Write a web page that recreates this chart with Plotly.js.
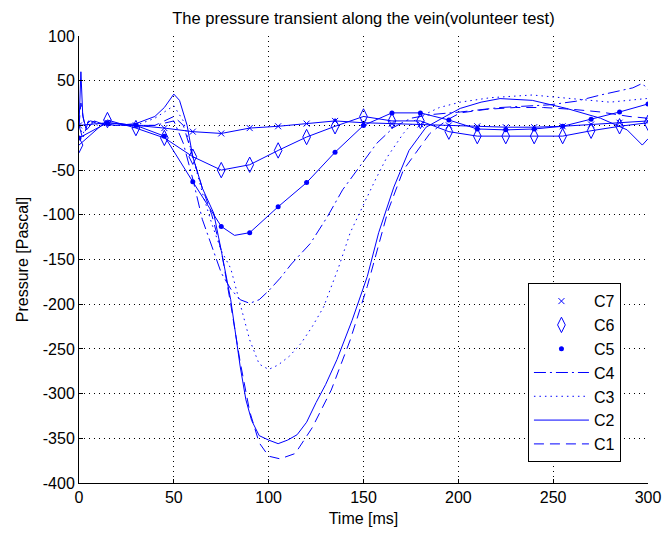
<!DOCTYPE html>
<html>
<head>
<meta charset="utf-8">
<script src="https://cdn.plot.ly/plotly-3.0.1.min.js"></script>
<style>html,body{margin:0;padding:0;background:#fff;}#chart{width:662px;height:534px;}</style>
</head>
<body>
<div id="chart"></div>
<script>
// ---- data ----
var c1Time = [0,1,3,6,10,15,20,30,40,45,50,55,60,65,70,75,80,85,90,95,100,106,114,123,133,143,152,163,171,180,185,194,201,215,230,245,260,275,290,300];
var c1Pressure = [0,25,0,5,3,0,2,0,0,5,10,0,-35,-70,-100,-140,-200,-265,-320,-355,-370,-373,-367,-338,-296,-240,-180,-95,-50,-24,-9,6,14,18,20,20,18,15,10,8];

var c2Time = [0,1,2,4,8,12,20,30,40,45,50,53,57,60,65,71,75,80,85,88,91,95,100,105,110,115,120,125,130,136,144,152,158,166,174,183,194,201,212,222,239,257,275,289,297,300];
var c2Pressure = [0,60,10,-5,5,2,0,2,10,20,35,28,0,-35,-70,-98,-140,-195,-270,-307,-330,-347,-352,-356,-352,-346,-332,-310,-290,-262,-218,-169,-120,-69,-28,-2,11,19,26,30,28,19,8,-5,-22,-15];

var c3Time = [0,2,5,10,20,30,40,45,50,55,60,65,70,75,80,85,90,95,100,105,111,117,123,129,137,143,150,156,162,171,178,190,201,217,239,260,280,299,300];
var c3Pressure = [0,-10,5,0,0,0,8,15,22,5,-35,-75,-110,-140,-160,-200,-240,-267,-273,-268,-258,-244,-225,-203,-158,-120,-88,-62,-37,-9,8,20,26,31,34,30,26,30,30];

var c4Time = [0,2,5,10,20,30,40,50,55,60,65,70,75,80,85,90,95,100,106,112,122,131,139,148,157,166,175,185,201,222,248,262,275,292,297,300];
var c4Pressure = [0,-15,5,2,0,0,0,5,-20,-60,-105,-135,-165,-183,-195,-199,-195,-185,-171,-155,-132,-102,-72,-46,-20,-2,8,12,15,20,23,27,34,42,47,40];

var c5Time = [0,15,30,45,60,75,82,90,105,120,135,150,165,180,195,210,225,240,255,270,285,300];
var c5Pressure = [-14,3,0,-12,-63,-113,-123,-120,-91,-64,-30,0,14,14,6,-4,-5,-4,-1,7,15,24];

var c6Time = [0,15,30,45,60,75,90,105,120,135,150,165,180,195,210,225,240,255,270,285,300];
var c6Pressure = [-22,6,-3,-14,-35,-50,-44,-28,-13,-1,10,5,5,-7,-12,-12,-12,-12,-6,-1,3];

var c7Time = [0,15,30,45,60,75,90,105,120,135,150,165,180,195,210,225,240,255,270,285,300];
var c7Pressure = [0,3,0,-3,-7,-9,-3,-1,2,5,3,2,1,0,-1,-2,-2,-1,1,3,5];

var xTicks = [0,50,100,150,200,250,300];
var yTicks = [100,50,0,-50,-100,-150,-200,-250,-300,-350,-400];

// ---- drawing ----
var BLUE = '#0000ff';
function markerOnly(t, p) {
  var xs = [], ys = [];
  for (var i = 0; i < t.length; i++) { if (t[i] % 15 === 0) { xs.push(t[i]); ys.push(p[i]); } }
  return {x: xs, y: ys};
}
var traces = [];
function lineTrace(t, p, dash, name, show, group) {
  return {x: t, y: p, type: 'scatter', mode: 'lines', name: name, showlegend: show, legendgroup: group,
          line: {color: BLUE, width: 1, dash: dash}, hoverinfo: 'skip'};
}
traces.push(lineTrace(c7Time, c7Pressure, 'solid', 'C7', false, 'g7'));
traces.push(lineTrace(c6Time, c6Pressure, 'solid', 'C6', false, 'g6'));
traces.push(lineTrace(c5Time, c5Pressure, 'solid', 'C5', false, 'g5'));
var m7 = markerOnly(c7Time, c7Pressure), m6 = markerOnly(c6Time, c6Pressure), m5 = markerOnly(c5Time, c5Pressure);
traces.push({x: m7.x, y: m7.y, type: 'scatter', mode: 'markers', name: 'C7', legendgroup: 'g7',
  marker: {symbol: 'x-thin-open', size: 6, color: BLUE, line: {color: BLUE, width: 1}}});
traces.push({x: m6.x, y: m6.y, type: 'scatter', mode: 'markers', name: 'C6', legendgroup: 'g6',
  marker: {symbol: 'diamond-tall-open', size: 11, color: BLUE, line: {color: BLUE, width: 1}}});
traces.push({x: m5.x, y: m5.y, type: 'scatter', mode: 'markers', name: 'C5', legendgroup: 'g5',
  marker: {symbol: 'circle', size: 5, color: BLUE}});
traces.push(lineTrace(c4Time, c4Pressure, '12px,4px,2px,4px', 'C4', true, 'g4'));
traces.push(lineTrace(c3Time, c3Pressure, '1.5px,4px', 'C3', true, 'g3'));
traces.push(lineTrace(c2Time, c2Pressure, 'solid', 'C2', true, 'g2'));
traces.push(lineTrace(c1Time, c1Pressure, '10px,6px', 'C1', true, 'g1'));

var FONT = {family: 'Liberation Sans, Arial, sans-serif', size: 16, color: '#000'};
var TITLEFONT = {family: 'Liberation Sans, Arial, sans-serif', size: 16.5, color: '#000'};
var layout = {
  width: 662, height: 534,
  margin: {l: 79, r: 14, t: 36, b: 51},
  paper_bgcolor: '#fff', plot_bgcolor: '#fff',
  font: FONT,
  title: {text: 'The pressure transient along the vein(volunteer test)', font: TITLEFONT,
          x: 0.549, xanchor: 'center', y: 1 - 18/534, yref: 'container', yanchor: 'middle'},
  xaxis: {range: [0, 300], tickvals: xTicks, ticktext: xTicks.map(String), ticks: 'inside', ticklen: 4, tickcolor: '#000',
          showline: true, linecolor: '#000', linewidth: 1, mirror: false,
          showgrid: true, gridcolor: '#000', gridwidth: 1, griddash: '1px,4px', zeroline: false,
          title: {text: 'Time [ms]', font: FONT, standoff: 7}, tickfont: FONT, fixedrange: true},
  yaxis: {range: [-400, 100], tickvals: yTicks, ticktext: yTicks.map(String), ticks: 'inside', ticklen: 4, tickcolor: '#000',
          showline: true, linecolor: '#000', linewidth: 1, mirror: false,
          showgrid: true, gridcolor: '#000', gridwidth: 1, griddash: '1px,4px', zeroline: false,
          title: {text: 'Pressure [Pascal]', font: FONT, standoff: 10}, tickfont: FONT, fixedrange: true},
  legend: {x: 0.789, y: 0.447, xanchor: 'left', yanchor: 'top', bgcolor: '#fff',
           bordercolor: '#000', borderwidth: 1, font: FONT, traceorder: 'grouped', tracegroupgap: 0,
           itemwidth: 55},
  showlegend: true
};
Plotly.newPlot('chart', traces, layout, {staticPlot: true, displayModeBar: false});
</script>
</body>
</html>
